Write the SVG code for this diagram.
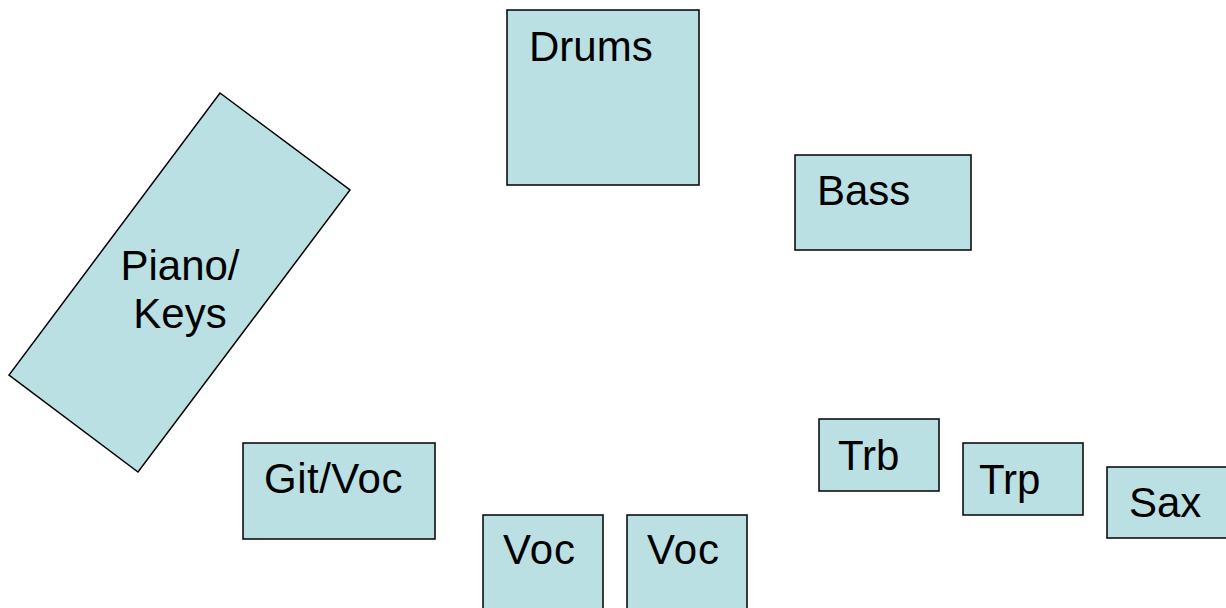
<svg xmlns="http://www.w3.org/2000/svg" width="1226" height="608" viewBox="0 0 1226 608">
<style>
.box{fill:#BBE0E3;stroke:#000;stroke-width:1.5}
.lbl{font-family:"Liberation Sans",Arial,sans-serif;font-size:42px;fill:#000}
</style>
<rect width="1226" height="608" fill="#fff"/>
<g id="connectors"></g>
<g id="piano"><polygon class="box" points="220,93 350,190 138,472 9,375"/><text class="lbl" x="180" y="280" text-anchor="middle">Piano/</text><text class="lbl" x="180" y="328" text-anchor="middle">Keys</text></g>
<g id="drums"><rect class="box" x="507" y="10" width="192" height="175"/><text class="lbl" x="529" y="61">Drums</text></g>
<g id="bass"><rect class="box" x="795" y="155" width="176" height="95"/><text class="lbl" x="817" y="205">Bass</text></g>
<g id="gitvoc"><rect class="box" x="243" y="443" width="192" height="96"/><text class="lbl" x="264" y="493" letter-spacing="0.5">Git/Voc</text></g>
<g id="voc1"><rect class="box" x="483" y="515" width="120" height="100"/><text class="lbl" x="503" y="564" letter-spacing="1">Voc</text></g>
<g id="voc2"><rect class="box" x="627" y="515" width="120" height="100"/><text class="lbl" x="647" y="564" letter-spacing="1">Voc</text></g>
<g id="trb"><rect class="box" x="819" y="419" width="120" height="72"/><text class="lbl" x="838" y="470">Trb</text></g>
<g id="trp"><rect class="box" x="963" y="443" width="120" height="72"/><text class="lbl" x="979" y="494">Trp</text></g>
<g id="sax"><rect class="box" x="1107" y="467" width="121" height="71"/><text class="lbl" x="1129" y="517">Sax</text></g>
</svg>
